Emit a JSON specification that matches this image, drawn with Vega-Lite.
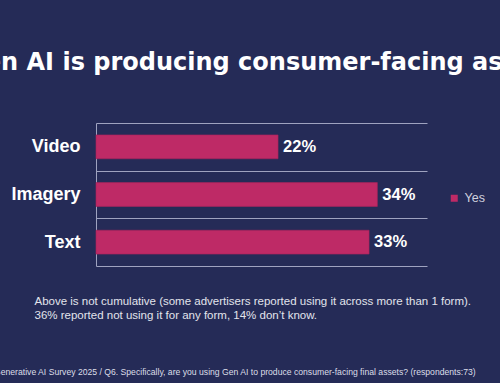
{
  "$schema": "https://vega.github.io/schema/vega-lite/v6.json",
  "width": 331,
  "height": 143,
  "autosize": {"type": "none"},
  "padding": {"left": 96, "top": 123, "right": 73, "bottom": 117},
  "background": "#252B57",
  "config": {"view": {"stroke": null}, "font": "Liberation Sans"},
  "title": {
    "text": "Generative AI Survey 2025 / Q6. Specifically, are you using Gen AI to produce consumer-facing final assets?  (respondents:73)",
    "orient": "bottom",
    "anchor": "start",
    "frame": "group",
    "dx": -102,
    "offset": 54,
    "fontSize": 8.65,
    "fontWeight": "normal",
    "color": "#dcdee8",
    "baseline": "alphabetic"
  },
  "data": {
    "values": [
      {"form": "Video", "pct": 22, "label": "22%", "series": "Yes"},
      {"form": "Imagery", "pct": 34, "label": "34%", "series": "Yes"},
      {"form": "Text", "pct": 33, "label": "33%", "series": "Yes"}
    ]
  },
  "layer": [
    {
      "mark": {"type": "bar", "height": {"band": 0.5}, "stroke": "#a8235a", "strokeWidth": 0.6},
      "encoding": {
        "y": {
          "field": "form",
          "type": "nominal",
          "sort": ["Video", "Imagery", "Text"],
          "scale": {"paddingInner": 0, "paddingOuter": 0},
          "axis": {
            "title": null,
            "labelFontSize": 18,
            "labelFontWeight": "bold",
            "labelColor": "#ffffff",
            "labelPadding": 16,
            "ticks": false,
            "domain": true,
            "domainColor": "#9fa3c0",
            "domainWidth": 1,
            "grid": true,
            "gridColor": "#9fa3c0",
            "gridWidth": 1,
            "tickBand": "extent"
          }
        },
        "x": {
          "field": "pct",
          "type": "quantitative",
          "scale": {"domain": [0, 40]},
          "axis": {
            "orient": "bottom",
            "domain": false,
            "ticks": false,
            "labels": false,
            "grid": false,
            "title": ["Above is not cumulative (some advertisers reported using it across more than 1 form).", "36% reported not using it for any form, 14% don’t know."],
            "titleFontSize": 11.5,
            "titleFontWeight": "normal",
            "titleColor": "#e2e4ec",
            "titleAlign": "left",
            "titleAnchor": "start",
            "titleBaseline": "alphabetic",
            "titleX": -62,
            "titleY": 38,
            "titleLineHeight": 14
          }
        },
        "color": {
          "field": "series",
          "type": "nominal",
          "scale": {"range": ["#BE2A66"]},
          "legend": {
            "title": null,
            "orient": "none",
            "legendX": 352,
            "legendY": 69,
            "symbolType": "square",
            "symbolSize": 49,
            "symbolStrokeWidth": 0,
            "labelFontSize": 12.5,
            "labelColor": "#cfd1de",
            "labelOffset": 4
          }
        }
      }
    },
    {
      "mark": {"type": "text", "align": "left", "baseline": "middle", "dx": 5, "fontSize": 16.5, "fontWeight": "bold", "color": "#ffffff"},
      "encoding": {
        "y": {"field": "form", "type": "nominal", "sort": ["Video", "Imagery", "Text"]},
        "x": {
          "field": "pct",
          "type": "quantitative",
          "axis": {
            "orient": "top",
            "domain": false,
            "ticks": false,
            "labels": false,
            "grid": false,
            "title": "Gen AI is producing consumer-facing assets",
            "titleFont": "DejaVu Sans",
            "titleFontSize": 24,
            "titleFontWeight": "bold",
            "titleColor": "#ffffff",
            "titleBaseline": "alphabetic",
            "titleY": -54
          }
        },
        "text": {"field": "label"}
      }
    }
  ],
  "resolve": {"axis": {"x": "independent"}}
}
